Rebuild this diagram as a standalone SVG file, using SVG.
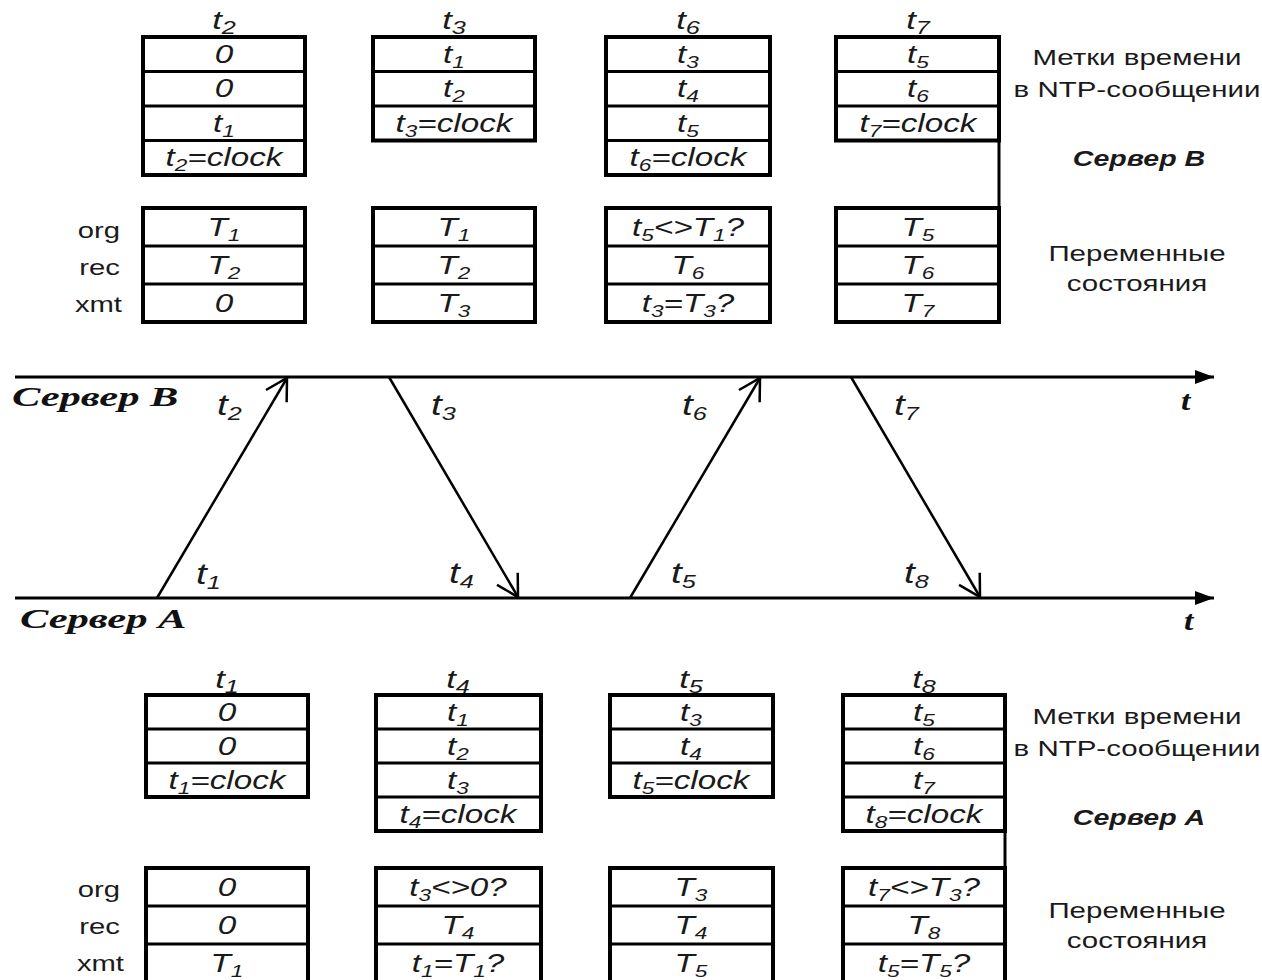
<svg xmlns="http://www.w3.org/2000/svg" width="1262" height="980" viewBox="0 0 1262 980">
  <defs>
    <style>
      .frame { fill: none; stroke: #000; stroke-width: 4; }
      .rule { stroke: #000; stroke-width: 3; }
      .link { stroke: #000; stroke-width: 3; fill: none; }
      .axis { stroke: #000; stroke-width: 3; fill: none; }
      .msg { stroke: #000; stroke-width: 2.5; fill: none; }
      .c { font-family: "Liberation Sans", Arial, sans-serif; font-style: italic; font-size: 25px; text-anchor: middle; fill: #1a1a1a; }
      .h { font-family: "Liberation Sans", Arial, sans-serif; font-style: italic; font-size: 26px; text-anchor: middle; fill: #1a1a1a; }
      .m { font-family: "Liberation Sans", Arial, sans-serif; font-style: italic; font-size: 29px; fill: #1a1a1a; }
      .s { font-size: 17px; }
      .sm { font-size: 19px; }
      .v { font-family: "Liberation Sans", Arial, sans-serif; font-size: 22px; text-anchor: end; fill: #1a1a1a; }
      .note { font-family: "Liberation Sans", Arial, sans-serif; font-size: 22.5px; text-anchor: middle; fill: #1a1a1a; }
      .srv { font-family: "Liberation Sans", Arial, sans-serif; font-size: 21.5px; font-weight: bold; font-style: italic; text-anchor: middle; fill: #1a1a1a; }
      .tl { font-family: "Liberation Serif", "Times New Roman", serif; font-size: 28px; font-weight: bold; font-style: italic; fill: #111; }
    </style>
    <marker id="open" markerUnits="userSpaceOnUse" viewBox="-26 -14 30 28" markerWidth="30" markerHeight="28" refX="0" refY="0" orient="auto">
      <path d="M-21,-12 L0,0 L-21,12" fill="none" stroke="#000" stroke-width="2.5"/>
    </marker>
    <marker id="solid" markerUnits="userSpaceOnUse" viewBox="0 -8 20 16" markerWidth="20" markerHeight="16" refX="19" refY="0" orient="auto">
      <path d="M0,-7 L19,0 L0,7 z" fill="#000"/>
    </marker>
  </defs>

  <rect width="1262" height="980" fill="#fff"/>

  <!-- ===== Server B: message timestamps ===== -->
  <g id="b-msg-t2">
    <text class="h" transform="translate(224 29) scale(1.33 1)">t<tspan class="sm" dy="5">2</tspan></text>
    <rect class="frame" x="143" y="37" width="162" height="138"/>
    <line class="rule" x1="143" y1="71.5" x2="305" y2="71.5"/>
    <line class="rule" x1="143" y1="106" x2="305" y2="106"/>
    <line class="rule" x1="143" y1="140.5" x2="305" y2="140.5"/>
    <text class="c" transform="translate(224 63) scale(1.33 1)">0</text>
    <text class="c" transform="translate(224 97) scale(1.33 1)">0</text>
    <text class="c" transform="translate(224 132) scale(1.33 1)">t<tspan class="s" dy="5">1</tspan></text>
    <text class="c" transform="translate(224 166) scale(1.33 1)">t<tspan class="s" dy="5">2</tspan><tspan dy="-5">=clock</tspan></text>
  </g>
  <g id="b-msg-t3">
    <text class="h" transform="translate(454 29) scale(1.33 1)">t<tspan class="sm" dy="5">3</tspan></text>
    <rect class="frame" x="373" y="37" width="162" height="103.5"/>
    <line class="rule" x1="373" y1="71.5" x2="535" y2="71.5"/>
    <line class="rule" x1="373" y1="106" x2="535" y2="106"/>
    <text class="c" transform="translate(454 63) scale(1.33 1)">t<tspan class="s" dy="5">1</tspan></text>
    <text class="c" transform="translate(454 97) scale(1.33 1)">t<tspan class="s" dy="5">2</tspan></text>
    <text class="c" transform="translate(454 132) scale(1.33 1)">t<tspan class="s" dy="5">3</tspan><tspan dy="-5">=clock</tspan></text>
  </g>
  <g id="b-msg-t6">
    <text class="h" transform="translate(688 29) scale(1.33 1)">t<tspan class="sm" dy="5">6</tspan></text>
    <rect class="frame" x="606" y="37" width="164" height="138"/>
    <line class="rule" x1="606" y1="71.5" x2="770" y2="71.5"/>
    <line class="rule" x1="606" y1="106" x2="770" y2="106"/>
    <line class="rule" x1="606" y1="140.5" x2="770" y2="140.5"/>
    <text class="c" transform="translate(688 63) scale(1.33 1)">t<tspan class="s" dy="5">3</tspan></text>
    <text class="c" transform="translate(688 97) scale(1.33 1)">t<tspan class="s" dy="5">4</tspan></text>
    <text class="c" transform="translate(688 132) scale(1.33 1)">t<tspan class="s" dy="5">5</tspan></text>
    <text class="c" transform="translate(688 166) scale(1.33 1)">t<tspan class="s" dy="5">6</tspan><tspan dy="-5">=clock</tspan></text>
  </g>
  <g id="b-msg-t7">
    <text class="h" transform="translate(918 29) scale(1.33 1)">t<tspan class="sm" dy="5">7</tspan></text>
    <rect class="frame" x="836" y="37" width="163" height="103.5"/>
    <line class="rule" x1="836" y1="71.5" x2="999" y2="71.5"/>
    <line class="rule" x1="836" y1="106" x2="999" y2="106"/>
    <text class="c" transform="translate(918 63) scale(1.33 1)">t<tspan class="s" dy="5">5</tspan></text>
    <text class="c" transform="translate(918 97) scale(1.33 1)">t<tspan class="s" dy="5">6</tspan></text>
    <text class="c" transform="translate(918 132) scale(1.33 1)">t<tspan class="s" dy="5">7</tspan><tspan dy="-5">=clock</tspan></text>
  </g>

  <!-- ===== Server B: state variables ===== -->
  <g id="b-state-names">
    <text class="v" transform="translate(120 238) scale(1.33 1)">org</text>
    <text class="v" transform="translate(120 275) scale(1.33 1)">rec</text>
    <text class="v" transform="translate(122 312) scale(1.33 1)">xmt</text>
  </g>
  <g id="b-state-1">
    <rect class="frame" x="143" y="208" width="162" height="114"/>
    <line class="rule" x1="143" y1="246" x2="305" y2="246"/>
    <line class="rule" x1="143" y1="284" x2="305" y2="284"/>
    <text class="c" transform="translate(224 236) scale(1.33 1)">T<tspan class="s" dy="5">1</tspan></text>
    <text class="c" transform="translate(224 274) scale(1.33 1)">T<tspan class="s" dy="5">2</tspan></text>
    <text class="c" transform="translate(224 312) scale(1.33 1)">0</text>
  </g>
  <g id="b-state-2">
    <rect class="frame" x="373" y="208" width="162" height="114"/>
    <line class="rule" x1="373" y1="246" x2="535" y2="246"/>
    <line class="rule" x1="373" y1="284" x2="535" y2="284"/>
    <text class="c" transform="translate(454 236) scale(1.33 1)">T<tspan class="s" dy="5">1</tspan></text>
    <text class="c" transform="translate(454 274) scale(1.33 1)">T<tspan class="s" dy="5">2</tspan></text>
    <text class="c" transform="translate(454 312) scale(1.33 1)">T<tspan class="s" dy="5">3</tspan></text>
  </g>
  <g id="b-state-3">
    <rect class="frame" x="606" y="208" width="164" height="114"/>
    <line class="rule" x1="606" y1="246" x2="770" y2="246"/>
    <line class="rule" x1="606" y1="284" x2="770" y2="284"/>
    <text class="c" transform="translate(688 236) scale(1.33 1)">t<tspan class="s" dy="5">5</tspan><tspan dy="-5">&lt;&gt;T</tspan><tspan class="s" dy="5">1</tspan><tspan dy="-5">?</tspan></text>
    <text class="c" transform="translate(688 274) scale(1.33 1)">T<tspan class="s" dy="5">6</tspan></text>
    <text class="c" transform="translate(688 312) scale(1.33 1)">t<tspan class="s" dy="5">3</tspan><tspan dy="-5">=T</tspan><tspan class="s" dy="5">3</tspan><tspan dy="-5">?</tspan></text>
  </g>
  <g id="b-state-4">
    <rect class="frame" x="836" y="208" width="163" height="114"/>
    <line class="rule" x1="836" y1="246" x2="999" y2="246"/>
    <line class="rule" x1="836" y1="284" x2="999" y2="284"/>
    <text class="c" transform="translate(918 236) scale(1.33 1)">T<tspan class="s" dy="5">5</tspan></text>
    <text class="c" transform="translate(918 274) scale(1.33 1)">T<tspan class="s" dy="5">6</tspan></text>
    <text class="c" transform="translate(918 312) scale(1.33 1)">T<tspan class="s" dy="5">7</tspan></text>
  </g>
  <g id="b-legend">
    <text class="note" transform="translate(1137 65) scale(1.31 1)">Метки времени</text>
    <text class="note" transform="translate(1137 97) scale(1.31 1)">в NTP-сообщении</text>
    <text class="srv" transform="translate(1139 166) scale(1.33 1)">Сервер B</text>
    <text class="note" transform="translate(1137 261) scale(1.31 1)">Переменные</text>
    <text class="note" transform="translate(1137 291) scale(1.31 1)">состояния</text>
  </g>

  <!-- ===== Time axes ===== -->
  <g id="axis-b">
    <line class="axis" x1="15" y1="377" x2="1214" y2="377" marker-end="url(#solid)"/>
    <text class="tl" transform="translate(12 406) scale(1.52 1)">Сервер B</text>
    <text class="tl" transform="translate(1181 410) scale(1.2 1)">t</text>
  </g>
  <g id="axis-a">
    <line class="axis" x1="15" y1="598" x2="1214" y2="598" marker-end="url(#solid)"/>
    <text class="tl" transform="translate(20 628) scale(1.52 1)">Сервер A</text>
    <text class="tl" transform="translate(1184 630) scale(1.2 1)">t</text>
  </g>

  <!-- ===== Message exchange ===== -->
  <g id="connectors">
    <line class="msg" x1="157" y1="598" x2="287" y2="378" marker-end="url(#open)"/>
    <line class="msg" x1="389" y1="377" x2="518" y2="597" marker-end="url(#open)"/>
    <line class="msg" x1="630" y1="598" x2="760" y2="378" marker-end="url(#open)"/>
    <line class="msg" x1="851" y1="377" x2="980" y2="597" marker-end="url(#open)"/>
    <line class="link" x1="999" y1="140.5" x2="999" y2="208"/>
    <line class="link" x1="1005" y1="831" x2="1005" y2="868"/>
  </g>
  <g id="event-labels">
    <text class="m" transform="translate(217 415) scale(1.33 1)">t<tspan class="sm" dy="5">2</tspan></text>
    <text class="m" transform="translate(431 415) scale(1.33 1)">t<tspan class="sm" dy="5">3</tspan></text>
    <text class="m" transform="translate(682 415) scale(1.33 1)">t<tspan class="sm" dy="5">6</tspan></text>
    <text class="m" transform="translate(894 415) scale(1.33 1)">t<tspan class="sm" dy="5">7</tspan></text>
    <text class="m" transform="translate(196 584) scale(1.33 1)">t<tspan class="sm" dy="5">1</tspan></text>
    <text class="m" transform="translate(449 583) scale(1.33 1)">t<tspan class="sm" dy="5">4</tspan></text>
    <text class="m" transform="translate(671 583) scale(1.33 1)">t<tspan class="sm" dy="5">5</tspan></text>
    <text class="m" transform="translate(904 583) scale(1.33 1)">t<tspan class="sm" dy="5">8</tspan></text>
  </g>

  <!-- ===== Server A: message timestamps ===== -->
  <g id="a-msg-t1">
    <text class="h" transform="translate(227 688) scale(1.33 1)">t<tspan class="sm" dy="5">1</tspan></text>
    <rect class="frame" x="146" y="695" width="162" height="102"/>
    <line class="rule" x1="146" y1="729" x2="308" y2="729"/>
    <line class="rule" x1="146" y1="763" x2="308" y2="763"/>
    <text class="c" transform="translate(227 721) scale(1.33 1)">0</text>
    <text class="c" transform="translate(227 755) scale(1.33 1)">0</text>
    <text class="c" transform="translate(227 789) scale(1.33 1)">t<tspan class="s" dy="5">1</tspan><tspan dy="-5">=clock</tspan></text>
  </g>
  <g id="a-msg-t4">
    <text class="h" transform="translate(458 688) scale(1.33 1)">t<tspan class="sm" dy="5">4</tspan></text>
    <rect class="frame" x="376" y="695" width="165" height="136"/>
    <line class="rule" x1="376" y1="729" x2="541" y2="729"/>
    <line class="rule" x1="376" y1="763" x2="541" y2="763"/>
    <line class="rule" x1="376" y1="797" x2="541" y2="797"/>
    <text class="c" transform="translate(458 721) scale(1.33 1)">t<tspan class="s" dy="5">1</tspan></text>
    <text class="c" transform="translate(458 755) scale(1.33 1)">t<tspan class="s" dy="5">2</tspan></text>
    <text class="c" transform="translate(458 789) scale(1.33 1)">t<tspan class="s" dy="5">3</tspan></text>
    <text class="c" transform="translate(458 823) scale(1.33 1)">t<tspan class="s" dy="5">4</tspan><tspan dy="-5">=clock</tspan></text>
  </g>
  <g id="a-msg-t5">
    <text class="h" transform="translate(691 688) scale(1.33 1)">t<tspan class="sm" dy="5">5</tspan></text>
    <rect class="frame" x="610" y="695" width="163" height="102"/>
    <line class="rule" x1="610" y1="729" x2="773" y2="729"/>
    <line class="rule" x1="610" y1="763" x2="773" y2="763"/>
    <text class="c" transform="translate(691 721) scale(1.33 1)">t<tspan class="s" dy="5">3</tspan></text>
    <text class="c" transform="translate(691 755) scale(1.33 1)">t<tspan class="s" dy="5">4</tspan></text>
    <text class="c" transform="translate(691 789) scale(1.33 1)">t<tspan class="s" dy="5">5</tspan><tspan dy="-5">=clock</tspan></text>
  </g>
  <g id="a-msg-t8">
    <text class="h" transform="translate(924 688) scale(1.33 1)">t<tspan class="sm" dy="5">8</tspan></text>
    <rect class="frame" x="843" y="695" width="162" height="136"/>
    <line class="rule" x1="843" y1="729" x2="1005" y2="729"/>
    <line class="rule" x1="843" y1="763" x2="1005" y2="763"/>
    <line class="rule" x1="843" y1="797" x2="1005" y2="797"/>
    <text class="c" transform="translate(924 721) scale(1.33 1)">t<tspan class="s" dy="5">5</tspan></text>
    <text class="c" transform="translate(924 755) scale(1.33 1)">t<tspan class="s" dy="5">6</tspan></text>
    <text class="c" transform="translate(924 789) scale(1.33 1)">t<tspan class="s" dy="5">7</tspan></text>
    <text class="c" transform="translate(924 823) scale(1.33 1)">t<tspan class="s" dy="5">8</tspan><tspan dy="-5">=clock</tspan></text>
  </g>

  <!-- ===== Server A: state variables ===== -->
  <g id="a-state-names">
    <text class="v" transform="translate(120 897) scale(1.33 1)">org</text>
    <text class="v" transform="translate(120 934) scale(1.33 1)">rec</text>
    <text class="v" transform="translate(124 971) scale(1.33 1)">xmt</text>
  </g>
  <g id="a-state-1">
    <rect class="frame" x="146" y="868" width="162" height="114"/>
    <line class="rule" x1="146" y1="906" x2="308" y2="906"/>
    <line class="rule" x1="146" y1="944" x2="308" y2="944"/>
    <text class="c" transform="translate(227 896) scale(1.33 1)">0</text>
    <text class="c" transform="translate(227 934) scale(1.33 1)">0</text>
    <text class="c" transform="translate(227 972) scale(1.33 1)">T<tspan class="s" dy="5">1</tspan></text>
  </g>
  <g id="a-state-2">
    <rect class="frame" x="376" y="868" width="165" height="114"/>
    <line class="rule" x1="376" y1="906" x2="541" y2="906"/>
    <line class="rule" x1="376" y1="944" x2="541" y2="944"/>
    <text class="c" transform="translate(458 896) scale(1.33 1)">t<tspan class="s" dy="5">3</tspan><tspan dy="-5">&lt;&gt;0?</tspan></text>
    <text class="c" transform="translate(458 934) scale(1.33 1)">T<tspan class="s" dy="5">4</tspan></text>
    <text class="c" transform="translate(458 972) scale(1.33 1)">t<tspan class="s" dy="5">1</tspan><tspan dy="-5">=T</tspan><tspan class="s" dy="5">1</tspan><tspan dy="-5">?</tspan></text>
  </g>
  <g id="a-state-3">
    <rect class="frame" x="610" y="868" width="163" height="114"/>
    <line class="rule" x1="610" y1="906" x2="773" y2="906"/>
    <line class="rule" x1="610" y1="944" x2="773" y2="944"/>
    <text class="c" transform="translate(691 896) scale(1.33 1)">T<tspan class="s" dy="5">3</tspan></text>
    <text class="c" transform="translate(691 934) scale(1.33 1)">T<tspan class="s" dy="5">4</tspan></text>
    <text class="c" transform="translate(691 972) scale(1.33 1)">T<tspan class="s" dy="5">5</tspan></text>
  </g>
  <g id="a-state-4">
    <rect class="frame" x="843" y="868" width="162" height="114"/>
    <line class="rule" x1="843" y1="906" x2="1005" y2="906"/>
    <line class="rule" x1="843" y1="944" x2="1005" y2="944"/>
    <text class="c" transform="translate(924 896) scale(1.33 1)">t<tspan class="s" dy="5">7</tspan><tspan dy="-5">&lt;&gt;T</tspan><tspan class="s" dy="5">3</tspan><tspan dy="-5">?</tspan></text>
    <text class="c" transform="translate(924 934) scale(1.33 1)">T<tspan class="s" dy="5">8</tspan></text>
    <text class="c" transform="translate(924 972) scale(1.33 1)">t<tspan class="s" dy="5">5</tspan><tspan dy="-5">=T</tspan><tspan class="s" dy="5">5</tspan><tspan dy="-5">?</tspan></text>
  </g>
  <g id="a-legend">
    <text class="note" transform="translate(1137 724) scale(1.31 1)">Метки времени</text>
    <text class="note" transform="translate(1137 756) scale(1.31 1)">в NTP-сообщении</text>
    <text class="srv" transform="translate(1139 825) scale(1.33 1)">Сервер A</text>
    <text class="note" transform="translate(1137 918) scale(1.31 1)">Переменные</text>
    <text class="note" transform="translate(1137 948) scale(1.31 1)">состояния</text>
  </g>
</svg>
